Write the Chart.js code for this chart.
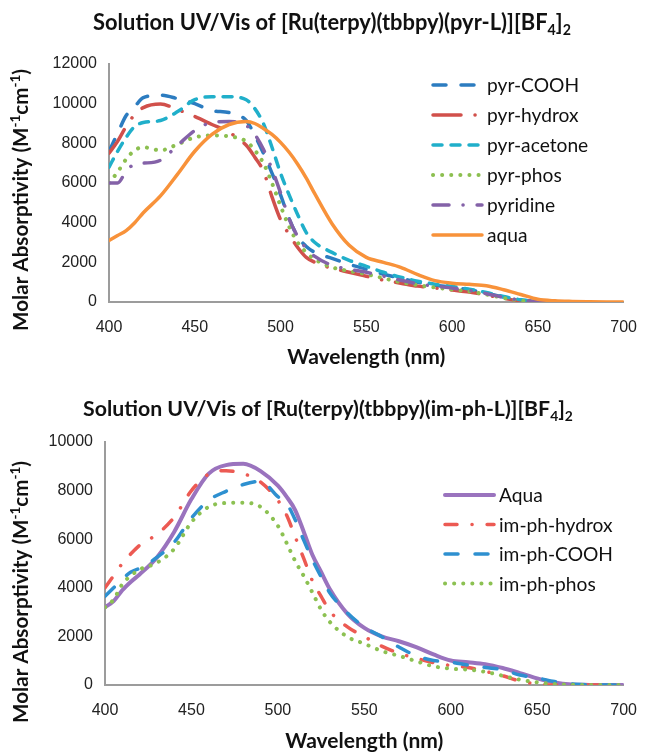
<!DOCTYPE html>
<html>
<head>
<meta charset="utf-8">
<script src="https://cdn.jsdelivr.net/npm/chart.js@4/dist/chart.umd.min.js"></script>
<style>
  html, body { margin: 0; padding: 0; background: #fff; }
  #wrap { position: relative; width: 653px; height: 755px; }
  canvas { position: absolute; left: 0; }
  #topChart { top: 0; }
  #bottomChart { top: 380px; }
</style>
</head>
<body>
<div id="wrap">
  <canvas id="topChart" width="653" height="380"></canvas>
  <canvas id="bottomChart" width="653" height="375"></canvas>
</div>
<script>
// ---- top chart: pyr-L complexes ----
const wlTop = [400, 405, 410, 415, 420, 430, 440, 450, 460, 470, 480, 485, 490, 495, 500, 505, 510, 515, 520, 530, 540, 550, 560, 570, 580, 590, 600, 610, 620, 630, 640, 650, 660, 670, 680, 690, 700];
const pyrCOOH    = [7600, 8500, 9400, 9850, 10300, 10430, 10250, 10000, 9650, 9550, 9150, 8400, 7500, 6500, 5400, 4200, 3300, 2800, 2500, 2200, 1900, 1650, 1400, 1200, 1000, 850, 750, 620, 450, 250, 100, 30, 0, null, null, null, null];
const pyrHydrox  = [7500, 8100, 8850, 9450, 9800, 9980, 9700, 9350, 8950, 8550, 7900, 7300, 6600, 5300, 4150, 3400, 2750, 2250, 2000, 1700, 1500, 1300, 1100, 950, 800, 700, 600, 500, 350, 180, 60, 10, 0, null, null, null, null];
const pyrAcetone = [6800, 7600, 8300, 8850, 9050, 9150, 9600, 10200, 10350, 10350, 10200, 9750, 9000, 7800, 6500, 5400, 4400, 3500, 3000, 2500, 2100, 1800, 1500, 1250, 1050, 900, 780, 650, 480, 280, 110, 30, 0, null, null, null, null];
const pyrPhos    = [6000, 6550, 7200, 7650, 7800, 7650, 7950, 8300, 8400, 8350, 8100, 7650, 7000, 6000, 4850, 3800, 3000, 2500, 2150, 1750, 1560, 1400, 1200, 1000, 850, 730, 630, 530, 380, 200, 70, 10, 0, null, null, null, null];
const pyridine   = [6000, 6000, 6600, 6950, 7000, 7150, 7900, 8650, 9050, 9100, 8900, 8450, 7700, 6700, 5500, 4200, 3300, 2700, 2300, 1850, 1650, 1500, 1300, 1100, 920, 800, 700, 580, 420, 230, 90, 20, 0, null, null, null, null];
const pyrAqua    = [3100, 3350, 3600, 4000, 4500, 5350, 6450, 7600, 8450, 8950, 9100, 9000, 8750, 8450, 8050, 7550, 6950, 6250, 5450, 3950, 2860, 2250, 2000, 1750, 1380, 1080, 950, 890, 820, 620, 380, 140, 60, 30, 15, 5, 0];

// ---- bottom chart: im-ph-L complexes ----
const wlBottom = [400, 405, 410, 415, 420, 430, 440, 450, 460, 470, 480, 490, 500, 505, 510, 515, 520, 525, 530, 540, 550, 560, 570, 580, 590, 600, 610, 620, 630, 640, 650, 660, 670, 680, 690, 700];
const imAqua   = [3200, 3450, 3900, 4250, 4550, 5250, 6300, 7650, 8700, 9050, 9100, 8800, 8200, 7750, 7200, 6300, 5350, 4650, 3950, 2950, 2350, 2000, 1800, 1560, 1260, 1010, 940, 860, 700, 490, 270, 100, 20, 5, 0, 0];
const imHydrox = [4000, 4500, 5000, 5400, 5750, 6200, 6900, 8000, 8680, 8820, 8700, 8350, 7600, 7000, 6100, 5200, 4280, 3650, 3050, 2400, 1990, 1600, 1310, 1100, 920, 800, 720, 560, 380, 160, 40, 0, 0, 0, 0, 0];
const imCOOH   = [3650, 4000, 4350, 4650, 4800, 5250, 5870, 6870, 7600, 7970, 8250, 8380, 7750, 7480, 6800, 5950, 5150, 4450, 3800, 2980, 2380, 1990, 1560, 1200, 1010, 940, 820, 720, 630, 410, 290, 140, 40, 10, 0, 0];
const imPhos   = [3200, 3520, 4150, 4500, 4750, 5030, 5600, 6700, 7330, 7490, 7500, 7330, 6550, 5850, 5100, 4480, 3800, 3100, 2600, 1990, 1700, 1400, 1200, 980, 770, 670, 630, 540, 380, 220, 110, 40, 10, 0, 0, 0];

const yTicksTop = [0, 2000, 4000, 6000, 8000, 10000, 12000];
const yTicksBottom = [0, 2000, 4000, 6000, 8000, 10000];
const xTicks = [400, 450, 500, 550, 600, 650, 700];

const LATO = 'Lato, "Open Sans", sans-serif';

function partsWidth(ctx, parts, size, weight) {
    let w = 0;
    parts.forEach(p => {
        ctx.font = weight + ' ' + (p.s ? size * 0.65 : size) + 'px ' + LATO;
        w += ctx.measureText(p.t).width;
    });
    return w;
}

// draws text with sub/superscripts, centred on cx, baseline at y
function drawParts(ctx, parts, cx, y, fitWidth, weight) {
    const size = 20 * fitWidth / partsWidth(ctx, parts, 20, weight);
    let x = cx - partsWidth(ctx, parts, size, weight) / 2;
    ctx.textAlign = 'left';
    ctx.textBaseline = 'alphabetic';
    ctx.fillStyle = '#111';
    parts.forEach(p => {
        const s = p.s ? size * 0.65 : size;
        ctx.font = weight + ' ' + s + 'px ' + LATO;
        const dy = p.s === 'sub' ? size * 0.22 : (p.s === 'sup' ? -size * 0.38 : 0);
        ctx.fillText(p.t, x, y + dy);
        x += ctx.measureText(p.t).width;
    });
}

const decorPlugin = {
    id: 'decor',
    afterDraw(chart, args, o) {
        const ctx = chart.ctx;
        const area = chart.chartArea;
        ctx.save();
        drawParts(ctx, o.title, o.titleX, o.titleY, o.titleW, 'bold');
        drawParts(ctx, [{t: 'Wavelength (nm)'}], (area.left + area.right) / 2, o.xTitleY, 158, 'bold');
        ctx.save();
        ctx.translate(o.yTitleX, o.yTitleY);
        ctx.rotate(-Math.PI / 2);
        drawParts(ctx, [{t: 'Molar Absorptivity (M'}, {t: '-1', s: 'sup'}, {t: 'cm'}, {t: '-1', s: 'sup'}, {t: ')'}], 0, 0, 262, 'bold');
        ctx.restore();

        // legend drawn inside the plot, Excel style
        const lg = o.legend;
        chart.data.datasets.forEach((ds, i) => {
            const y = lg.y + i * lg.gap;
            ctx.save();
            ctx.strokeStyle = ds.borderColor;
            ctx.lineWidth = ds.borderWidth;
            ctx.lineCap = ds.borderCapStyle || 'butt';
            ctx.setLineDash(ds.borderDash || []);
            ctx.beginPath();
            ctx.moveTo(lg.x, y);
            ctx.lineTo(lg.x + lg.len, y);
            ctx.stroke();
            ctx.restore();
            ctx.fillStyle = '#111';
            ctx.font = lg.size + 'px ' + LATO;
            ctx.textAlign = 'left';
            ctx.textBaseline = 'middle';
            ctx.fillText(ds.label, lg.x + lg.len + 5, y + 1);
        });
        ctx.restore();
    }
};

function series(label, xs, ys, color, dash, width, n, i) {
    return {
        label: label,
        data: xs.map((x, k) => ({x: x, y: ys[k]})),
        borderColor: color,
        borderWidth: width,
        borderDash: dash,
        borderCapStyle: 'round',
        borderJoinStyle: 'round',
        pointRadius: 0,
        fill: false,
        cubicInterpolationMode: 'monotone',
        order: n - i
    };
}

function axisOpts(min, max, step, ticks, fitSize, isX) {
    return {
        type: 'linear',
        min: min,
        max: max,
        afterBuildTicks: s => { s.ticks = ticks.map(v => ({value: v})); },
        afterFit: s => { if (isX) s.height = fitSize; else s.width = fitSize; },
        grid: {display: true, drawOnChartArea: false, drawTicks: false},
        border: {display: true, color: '#9c9c9c', width: 2},
        ticks: {
            padding: isX ? 16 : 12,
            color: '#222',
            font: {family: '"Liberation Sans", Arial, sans-serif', size: 16},
            callback: v => String(v)
        }
    };
}

new Chart(document.getElementById('topChart'), {
    type: 'line',
    data: {
        datasets: [
            series('pyr-COOH', wlTop, pyrCOOH, '#2C7CC0', [13, 15], 3.5, 6, 0),
            series('pyr-hydrox', wlTop, pyrHydrox, '#D1504B', [28, 14, 0.1, 14], 3.5, 6, 1),
            series('pyr-acetone', wlTop, pyrAcetone, '#20AFCA', [9, 9], 3.5, 6, 2),
            series('pyr-phos', wlTop, pyrPhos, '#8CBF50', [0.1, 9], 4, 6, 3),
            series('pyridine', wlTop, pyridine, '#8462A8', [16, 14, 0.1, 14], 3.5, 6, 4),
            series('aqua', wlTop, pyrAqua, '#F8923A', [], 3.5, 6, 5)
        ]
    },
    options: {
        responsive: false,
        animation: false,
        events: [],
        layout: {padding: {top: 64, right: 17, left: 0, bottom: 0}},
        scales: {
            x: axisOpts(400, 700, 50, xTicks, 78, true),
            y: axisOpts(0, 12000, 2000, yTicksTop, 109, false)
        },
        plugins: {
            legend: {display: false},
            tooltip: {enabled: false},
            decor: {
                title: [{t: 'Solution UV/Vis of [Ru(terpy)(tbbpy)(pyr-L)][BF'}, {t: '4', s: 'sub'}, {t: ']'}, {t: '2', s: 'sub'}],
                titleX: 332, titleY: 30, titleW: 478,
                xTitleY: 364,
                yTitleX: 28, yTitleY: 200,
                legend: {x: 433, y: 85, gap: 30, len: 49, size: 19.2}
            }
        }
    },
    plugins: [decorPlugin]
});

new Chart(document.getElementById('bottomChart'), {
    type: 'line',
    data: {
        datasets: [
            series('Aqua', wlBottom, imAqua, '#9A73BE', [], 4, 4, 0),
            series('im-ph-hydrox', wlBottom, imHydrox, '#EC5A53', [12, 15, 0.1, 15], 3.5, 4, 1),
            series('im-ph-COOH', wlBottom, imCOOH, '#2E90D0', [13, 17], 3.5, 4, 2),
            series('im-ph-phos', wlBottom, imPhos, '#8CC152', [0.1, 9], 4, 4, 3)
        ]
    },
    options: {
        responsive: false,
        animation: false,
        events: [],
        layout: {padding: {top: 62, right: 16, left: 0, bottom: 0}},
        scales: {
            x: axisOpts(400, 700, 50, xTicks, 70, true),
            y: axisOpts(0, 10000, 2000, yTicksBottom, 105, false)
        },
        plugins: {
            legend: {display: false},
            tooltip: {enabled: false},
            decor: {
                title: [{t: 'Solution UV/Vis of [Ru(terpy)(tbbpy)(im-ph-L)][BF'}, {t: '4', s: 'sub'}, {t: ']'}, {t: '2', s: 'sub'}],
                titleX: 328, titleY: 36, titleW: 490,
                xTitleY: 368,
                yTitleX: 28, yTitleY: 212,
                legend: {x: 445, y: 115, gap: 29.5, len: 49, size: 19.2}
            }
        }
    },
    plugins: [decorPlugin]
});
</script>
</body>
</html>
